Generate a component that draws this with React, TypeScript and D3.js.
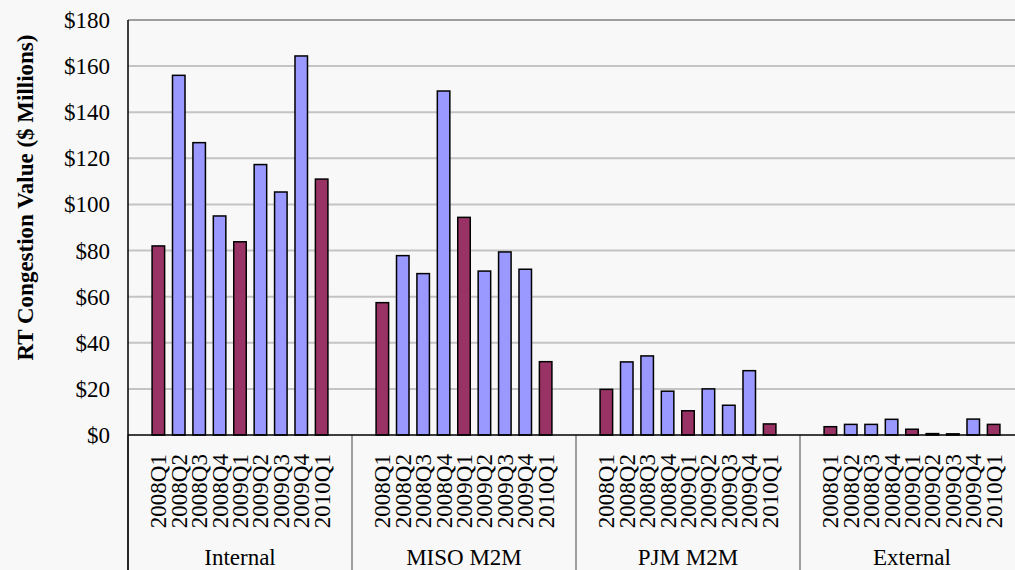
import React from "react";
import * as d3 from "d3";

const groups = ["Internal", "MISO M2M", "PJM M2M", "External"];
const quarters = ["2008Q1", "2008Q2", "2008Q3", "2008Q4", "2009Q1", "2009Q2", "2009Q3", "2009Q4", "2010Q1"];
const internalValues = [82, 156, 126.8, 95, 83.8, 117.3, 105.4, 164.4, 111];
const misoValues = [57.4, 77.8, 70, 149.2, 94.4, 71.1, 79.4, 71.9, 31.8];
const pjmValues = [19.8, 31.7, 34.3, 19, 10.5, 20, 12.9, 27.9, 4.8];
const externalValues = [3.6, 4.6, 4.6, 6.8, 2.5, 0.6, 0.5, 6.9, 4.6];
const yTicks = [0, 20, 40, 60, 80, 100, 120, 140, 160, 180];
const highlightQuarters = ["2008Q1", "2009Q1", "2010Q1"];

const seriesByGroup = [internalValues, misoValues, pjmValues, externalValues];

export default function App() {
  const W = 1015, H = 570;
  const left = 128, top = 20, bottom = 435, groupW = 224;
  const x0 = d3.scaleBand<string>().domain(groups).range([left, left + groupW * groups.length]).padding(0);
  const x1 = d3.scaleBand<string>().domain(quarters).range([0, groupW]).paddingInner(0.387).paddingOuter(1.18);
  const y = d3.scaleLinear().domain([0, 180]).range([bottom, top]);
  const font = "'Liberation Serif', 'Times New Roman', serif";
  const fs = 23;
  return (
    <svg width={W} height={H} style={{ position: "absolute", left: 0, top: 0, background: "#f8f8f8" }}>
      <rect x={0} y={0} width={W} height={H} fill="#f8f8f8" />
      {yTicks.map((t) => (
        <g key={t}>
          {t > 0 && t < 180 && (
            <line x1={left} x2={W} y1={y(t)} y2={y(t)} stroke="#c4c4c4" strokeWidth={2} />
          )}
          <text x={110} y={y(t)} dy="0.35em" textAnchor="end" fontFamily={font} fontSize={fs} fill="#000">
            ${t}
          </text>
        </g>
      ))}
      <line x1={left} x2={W} y1={top} y2={top} stroke="#808080" strokeWidth={1.5} />
      {groups.map((g, gi) => (
        <g key={g}>
          {seriesByGroup[gi].map((v, qi) => {
            const q = quarters[qi];
            const bx = (x0(g) as number) + (x1(q) as number);
            return (
              <rect
                key={q}
                x={bx}
                y={y(v)}
                width={x1.bandwidth()}
                height={y(0) - y(v)}
                fill={highlightQuarters.includes(q) ? "#993366" : "#9999ff"}
                stroke="#000"
                strokeWidth={1.5}
              />
            );
          })}
          {quarters.map((q) => {
            const cx = (x0(g) as number) + (x1(q) as number) + x1.bandwidth() / 2;
            return (
              <text
                key={q}
                transform={`translate(${cx + 8},454) rotate(-90)`}
                textAnchor="end"
                fontFamily={font}
                fontSize={fs}
                fill="#000"
              >
                {q}
              </text>
            );
          })}
          <text x={(x0(g) as number) + groupW / 2} y={565} textAnchor="middle" fontFamily={font} fontSize={fs} fill="#000">
            {g}
          </text>
          <line x1={x0(g) as number} x2={x0(g) as number} y1={bottom} y2={H} stroke="#808080" strokeWidth={1.5} />
        </g>
      ))}
      <line x1={left} x2={left} y1={top} y2={H} stroke="#000" strokeWidth={1.5} />
      <line x1={left} x2={W} y1={bottom} y2={bottom} stroke="#000" strokeWidth={1.5} />
      <text
        transform={`translate(33,${(33 + 362) / 2}) rotate(-90)`}
        textAnchor="middle"
        fontFamily={font}
        fontSize={fs}
        fontWeight="bold"
        fill="#000"
      >
        RT Congestion Value ($ Millions)
      </text>
    </svg>
  );
}
